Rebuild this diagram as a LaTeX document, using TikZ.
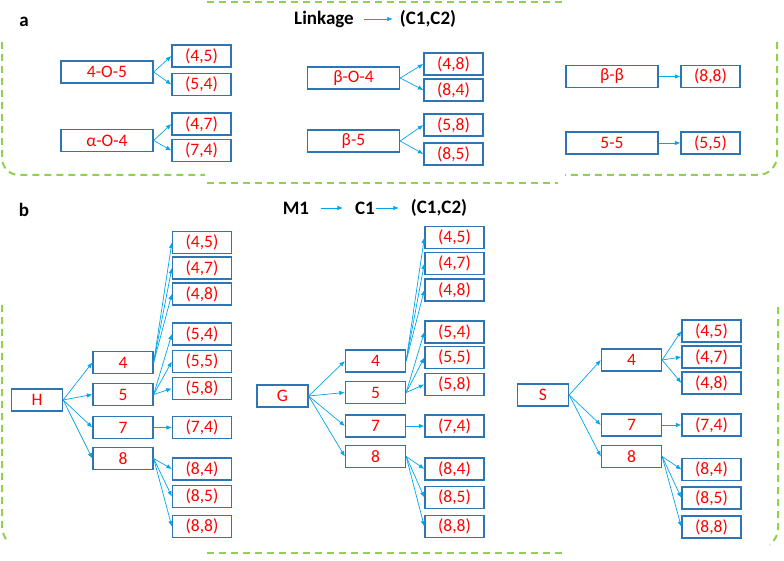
\documentclass[tikz,border=0pt]{standalone}
\usepackage{fontspec}
\setmainfont{Carlito}
\usetikzlibrary{arrows.meta}
\definecolor{boxblue}{RGB}{46,117,182}
\definecolor{arrblue}{RGB}{0,165,235}
\definecolor{txtred}{RGB}{255,0,0}
\definecolor{frgreen}{RGB}{146,208,80}
\tikzset{
  bx/.style={draw=boxblue, line width=1.3pt, text=txtred, inner sep=0pt, minimum height=22pt,
     font=\fontsize{17.5}{20}\selectfont},
  wide/.style={bx, minimum width=92pt},
  small/.style={bx, minimum width=59pt},
  mid/.style={bx, minimum width=60pt},
  root/.style={bx, minimum width=51pt},
  ttl/.style={inner sep=0pt, font=\fontsize{19}{22}\selectfont\bfseries},
  arr/.style={draw=arrblue, line width=0.7pt, -{Latex[length=5.5pt,width=4.5pt]}},
  frame/.style={draw=frgreen, line width=2pt, dash pattern=on 7pt off 5pt},
}
\begin{document}
\begin{tikzpicture}[x=1pt,y=-1pt]
\useasboundingbox (0,0) rectangle (784,561);
% ---------------- frames
\draw[frame] (207,2) -- (562,2);
\draw[frame, rounded corners=17pt] (2,42) -- (2,175) -- (205,175);
\draw[frame] (207,183) -- (558,183);
\draw[frame, rounded corners=19pt] (777,42) -- (777,175) -- (565,175);
\draw[frame] (2,305) -- (2,525) .. controls (2,533) and (5,539) .. (9,543);
\draw[frame] (207,553) -- (562,553);
\draw[frame] (778,307) -- (778,528) .. controls (778,535) and (775,540) .. (770,545);
% ---------------- panel a
\node[ttl] (la) at (24,22) {a};
\node[ttl] (link) at (324,19) {Linkage};
\node[ttl] (cc1) at (428,19) {(C1,C2)};
\draw[arr, shorten <=10pt, shorten >=7pt] (link.east) -- (cc1.west);

\node[wide] (l1) at (107,72) {4-O-5};
\node[small] (a45) at (201.5,56) {(4,5)};
\node[small] (a54) at (201.5,84.5) {(5,4)};
\node[wide] (l2) at (107,140.5) {α-O-4};
\node[small] (a47) at (201.5,124) {(4,7)};
\node[small] (a74) at (201.5,150.5) {(7,4)};
\node[wide] (l3) at (353.5,78) {β-O-4};
\node[small] (a48) at (453.5,64) {(4,8)};
\node[small] (a84) at (453.5,90) {(8,4)};
\node[wide] (l4) at (353.5,141) {β-5};
\node[small] (a58) at (453.5,125) {(5,8)};
\node[small] (a85) at (453.5,154) {(8,5)};
\node[wide] (l5) at (612,76.5) {β-β};
\node[small] (a88) at (710.5,76.5) {(8,8)};
\node[wide] (l6) at (612,143) {5-5};
\node[small] (a55) at (710.5,143) {(5,5)};
\foreach \s/\t in {l1/a45,l1/a54,l2/a47,l2/a74,l3/a48,l3/a84,l4/a58,l4/a85,l5/a88,l6/a55}
  \draw[arr] (\s.east) -- (\t.west);
% ---------------- panel b
\node[ttl] (lb) at (24,210) {b};
\node[ttl] (m1) at (296,208) {M1};
\node[ttl] (c1) at (365,208) {C1};
\node[ttl] (cc2) at (439,208) {(C1,C2)};
\draw[arr, shorten <=12pt, shorten >=12pt] (m1.east) -- (c1.west);
\draw[arr, shorten <=1pt, shorten >=12pt] (c1.east) -- (cc2.west);

% H tree
\node[root] (H) at (37,400) {H};
\node[mid] (H4) at (123,362.5) {4};
\node[mid] (H5) at (123,394.5) {5};
\node[mid] (H7) at (123,427.5) {7};
\node[mid] (H8) at (123,458.5) {8};
\node[small] (H45) at (202,242.5) {(4,5)};
\node[small] (H47) at (202,268) {(4,7)};
\node[small] (H48) at (202,294) {(4,8)};
\node[small] (H54) at (202,334) {(5,4)};
\node[small] (H55) at (202,361.5) {(5,5)};
\node[small] (H58) at (202,388.5) {(5,8)};
\node[small] (H74) at (202,427.5) {(7,4)};
\node[small] (H84) at (202,469) {(8,4)};
\node[small] (H85) at (202,496.5) {(8,5)};
\node[small] (H88) at (202,526.5) {(8,8)};
\foreach \s/\t in {H/H4,H/H5,H/H7,H/H8,H4/H45,H4/H47,H4/H48,H5/H54,H5/H55,H5/H58,H7/H74,H8/H84,H8/H85,H8/H88}
  \draw[arr] (\s.east) -- (\t.west);

% G tree
\node[root] (G) at (282.5,396) {G};
\node[mid] (G4) at (375.5,361) {4};
\node[mid] (G5) at (375.5,392.5) {5};
\node[mid] (G7) at (375.5,426) {7};
\node[mid] (G8) at (375.5,456.5) {8};
\node[small] (G45) at (454.5,237.5) {(4,5)};
\node[small] (G47) at (454.5,263.5) {(4,7)};
\node[small] (G48) at (454.5,290) {(4,8)};
\node[small] (G54) at (454.5,332) {(5,4)};
\node[small] (G55) at (454.5,357.5) {(5,5)};
\node[small] (G58) at (454.5,384.5) {(5,8)};
\node[small] (G74) at (454.5,426) {(7,4)};
\node[small] (G84) at (454.5,469) {(8,4)};
\node[small] (G85) at (454.5,497.5) {(8,5)};
\node[small] (G88) at (454.5,526.5) {(8,8)};
\foreach \s/\t in {G/G4,G/G5,G/G7,G/G8,G4/G45,G4/G47,G4/G48,G5/G54,G5/G55,G5/G58,G7/G74,G8/G84,G8/G85,G8/G88}
  \draw[arr] (\s.east) -- (\t.west);

% S tree
\node[root] (S) at (543,395) {S};
\node[mid] (S4) at (631.5,360) {4};
\node[mid] (S7) at (631.5,425) {7};
\node[mid] (S8) at (631.5,456.5) {8};
\node[small] (S45) at (711.5,331) {(4,5)};
\node[small] (S47) at (711.5,357) {(4,7)};
\node[small] (S48) at (711.5,383) {(4,8)};
\node[small] (S74) at (711.5,425) {(7,4)};
\node[small] (S84) at (711.5,469.5) {(8,4)};
\node[small] (S85) at (711.5,498) {(8,5)};
\node[small] (S88) at (711.5,527) {(8,8)};
\foreach \s/\t in {S/S4,S/S7,S/S8,S4/S45,S4/S47,S4/S48,S7/S74,S8/S84,S8/S85,S8/S88}
  \draw[arr] (\s.east) -- (\t.west);
\end{tikzpicture}
\end{document}
